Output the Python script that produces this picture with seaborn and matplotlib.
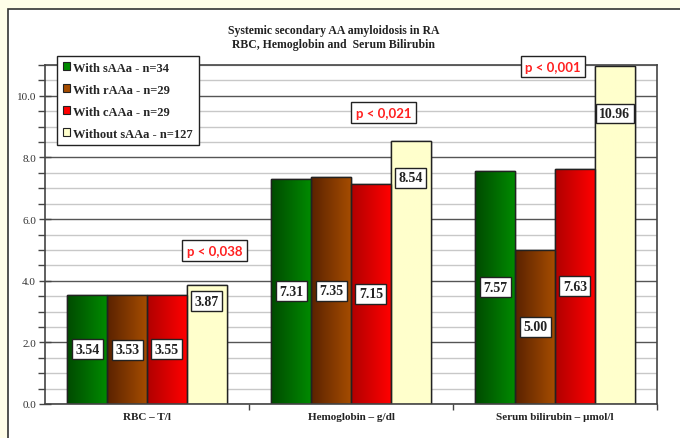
import numpy as np
import pandas as pd
import matplotlib
matplotlib.use("Agg")
import matplotlib.pyplot as plt
import seaborn as sns
from matplotlib.patches import Patch, Rectangle
from matplotlib.colors import to_rgb
from matplotlib.ticker import MultipleLocator, FixedLocator

# data
categories = ["RBC \u2013 T/l", "Hemoglobin \u2013 g/dl", "Serum bilirubin \u2013 \u00b5mol/l"]
groups = ["With sAAa - n=34", "With rAAa - n=29", "With cAAa - n=29", "Without sAAa - n=127"]
with_saaa = [3.54, 7.31, 7.57]
with_raaa = [3.53, 7.35, 5.00]
with_caaa = [3.55, 7.15, 7.63]
without_saaa = [3.87, 8.54, 10.96]
p_values = ["p < 0,038", "p < 0,021", "p < 0,001"]

series = [with_saaa, with_raaa, with_caaa, without_saaa]
df = pd.DataFrame({
    "category": [c for s in series for c in categories],
    "group": [g for g, s in zip(groups, series) for _ in s],
    "value": [v for s in series for v in s],
})

# gradient colours (left edge -> right edge) per group
grad_colors = [("#004a00", "#008a00"), ("#5a2200", "#a54c00"),
               ("#b00000", "#ff0000"), ("#ffffcc", "#ffffcc")]
base_colors = [c[1] for c in grad_colors]

sns.set_theme(style="white")
plt.rcParams["font.family"] = ["Liberation Serif", "DejaVu Serif"]

fig = plt.figure(figsize=(6.8, 4.39), dpi=100)
fig.patch.set_facecolor("#fffde8")
# white panel with a dark border
fig.patches.append(Rectangle((8 / 680, -0.05), 1.0, 1 - 10 / 439 + 0.05, transform=fig.transFigure,
                             facecolor="white", edgecolor="#333333", linewidth=1.2, zorder=-5))

ax = fig.add_axes([45 / 680, 1 - 405 / 439, (657 - 45) / 680, (405 - 66) / 439])
ax.set_zorder(2)
sns.barplot(data=df, x="category", y="value", hue="group", palette=base_colors,
            width=0.78, edgecolor="#222222", linewidth=1.0, legend=False, ax=ax,
            saturation=1, zorder=2)

# horizontal gradients on the bars
for (c_left, c_right), cont in zip(grad_colors, ax.containers):
    grad = np.linspace(0, 1, 128)[None, :, None]
    img = (1 - grad) * np.array(to_rgb(c_left)) + grad * np.array(to_rgb(c_right))
    for bar in cont:
        x, w, h = bar.get_x(), bar.get_width(), bar.get_height()
        im = ax.imshow(img, extent=[x, x + w, 0, h], aspect="auto", zorder=2.1, origin="lower")
        im.set_clip_path(bar)
        ax.add_patch(Rectangle((x, 0), w, h, fill=False, edgecolor="#222222", linewidth=1.0, zorder=2.2))

ax.set_xlim(-0.5, 2.5)
ax.set_ylim(0, 11)
ax.set_xlabel("")
ax.set_ylabel("")

# value labels in white boxes
box = dict(boxstyle="square,pad=0.25", facecolor="white", edgecolor="#222222", linewidth=1.0)
for k, cont in enumerate(ax.containers):
    for bar, v in zip(cont, series[k]):
        xc = bar.get_x() + bar.get_width() / 2
        yc = v * 0.86 if k == 3 else v / 2
        ax.text(xc, yc, f"{v:.2f}", ha="center", va="center", fontsize=10, fontweight="bold",
                color="#222222", bbox=box, zorder=4)

# p-value boxes
p_pos = [(0.33, 4.98), (1.16, 9.45), (1.99, 10.95)]
for txt, (px, py) in zip(p_values, p_pos):
    ax.text(px, py, txt, ha="center", va="center", fontsize=9.5, fontweight="bold", color="#ff2020",
            family=["Lato", "DejaVu Sans"], zorder=5, clip_on=False,
            bbox=dict(boxstyle="square,pad=0.35", facecolor="white", edgecolor="#222222", linewidth=1.0))

# grid and ticks
ax.yaxis.set_major_locator(MultipleLocator(2))
ax.yaxis.set_minor_locator(MultipleLocator(0.5))
ax.set_yticks(np.arange(0, 11, 2))
ax.set_yticklabels([f"{t:.1f}" for t in np.arange(0, 11, 2)], fontsize=8, color="#333333")
ax.grid(axis="y", which="major", color="#555555", linewidth=1.0, zorder=0)
ax.grid(axis="y", which="minor", color="#c8c8c8", linewidth=1.0, zorder=0)
ax.set_axisbelow(True)
ax.tick_params(axis="y", which="major", direction="inout", length=9, width=1, color="#444444", pad=2, left=True)
ax.tick_params(axis="y", which="minor", direction="out", length=5, width=1, color="#444444", left=True)

ax.xaxis.set_major_locator(FixedLocator([0.5, 1.5, 2.5]))
ax.xaxis.set_minor_locator(FixedLocator([0, 1, 2]))
ax.set_xticklabels([], minor=False)
ax.set_xticklabels(categories, minor=True, fontsize=8, fontweight="bold", color="#222222")
ax.tick_params(axis="x", which="major", direction="out", length=4, width=1, color="#444444", bottom=True)
ax.tick_params(axis="x", which="minor", length=0, pad=6)

for s in ax.spines.values():
    s.set_color("#444444")
    s.set_linewidth(1.2)

# legend
handles = [Patch(facecolor=c, edgecolor="#222222", linewidth=0.8) for c in base_colors]
leg = fig.legend(handles, groups, loc="upper left", bbox_to_anchor=(57 / 680, 1 - 57 / 439),
                 prop={"family": ["Liberation Serif"], "weight": "bold", "size": 9},
                 handlelength=0.55, handleheight=0.55, handletextpad=0.3, labelspacing=0.8,
                 borderpad=0.45, borderaxespad=0, fancybox=False, framealpha=1, edgecolor="#222222")
leg.get_frame().set_linewidth(1.0)
leg.set_zorder(10)

fig.text(334 / 680, 1 - 31 / 439, "Systemic secondary AA amyloidosis in RA", ha="center", va="center",
         fontsize=8.5, fontweight="bold", color="#222222")
fig.text(334 / 680, 1 - 45 / 439, "RBC, Hemoglobin and  Serum Bilirubin", ha="center", va="center",
         fontsize=8.5, fontweight="bold", color="#222222")

fig.savefig("out.png", dpi=100, facecolor=fig.get_facecolor())
